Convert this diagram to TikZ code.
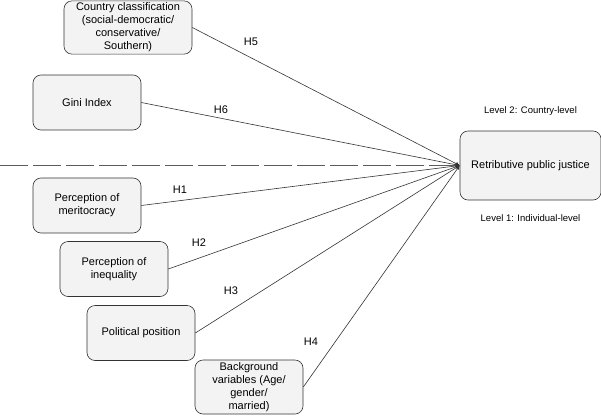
\documentclass[tikz,border=0pt]{standalone}
\usepackage{fontspec}
\setmainfont{Liberation Sans}
\usetikzlibrary{positioning,arrows.meta}
\definecolor{boxgray}{HTML}{F3F3F3}
\definecolor{linegray}{HTML}{333333}
\tikzset{%
    factor/.style={rounded corners=8pt, draw=linegray, line width=0.6pt, fill=boxgray, minimum width=108pt, minimum height=55pt, align=center, inner sep=2pt, font=\fontsize{11}{13}\selectfont},
    hyp/.style={draw=linegray, line width=0.6pt, -{Latex[length=4pt,width=4pt]}},
    hlabel/.style={font=\fontsize{11}{13}\selectfont},
    level/.style={font=\fontsize{9.5}{11}\selectfont},
}

\begin{document}
\begin{tikzpicture}[x=1pt,y=-1pt]
    \useasboundingbox (0,0) rectangle (601,415);

    % outcome
    \node[factor, minimum width=141pt, minimum height=69pt] (rpj) at (530.5,165.5) {Retributive public justice};
    \node[level, above=12pt of rpj] (lvl2) {Level 2: Country-level};
    \node[level, below=11pt of rpj] (lvl1) {Level 1: Individual-level};

    % country-level factors
    \node[factor, minimum width=128pt, minimum height=53pt] (country) at (128,27.5) {Country classification\\(social-democratic/\\conservative/\\Southern)};
    \node[factor] (gini) at (87,102.5) {Gini Index};

    % individual-level factors
    \node[factor] (merit) at (87,205.5) {Perception of\\meritocracy};
    \node[factor] (ineq) at (114,269) {Perception of\\inequality};
    \node[factor] (pol) at (141,333) {Political position};
    \node[factor, minimum height=54pt] (back) at (249,387) {Background\\variables (Age/\\gender/\\married)};

    % level divider
    \coordinate (divstart) at (0,165.5);
    \draw[linegray!80, line width=0.6pt, dash pattern=on 28pt off 5pt] (divstart) -- (rpj.west);

    % arrows
    \draw[hyp] (country.east) -- (rpj.west);
    \draw[hyp] (gini.east) -- (rpj.west);
    \draw[hyp] (merit.east) -- (rpj.west);
    \draw[hyp] (ineq.east) -- (rpj.west);
    \draw[hyp] (pol.east) -- (rpj.west);
    \draw[hyp] (back.east) -- (rpj.west);

    % hypotheses
    \node[hlabel] (h5) at (251,42) {H5};
    \node[hlabel] (h6) at (221,110) {H6};
    \node[hlabel] (h1) at (180,190) {H1};
    \node[hlabel] (h2) at (199,243) {H2};
    \node[hlabel] (h3) at (231,291) {H3};
    \node[hlabel] (h4) at (311,342) {H4};

\end{tikzpicture}
\end{document}
